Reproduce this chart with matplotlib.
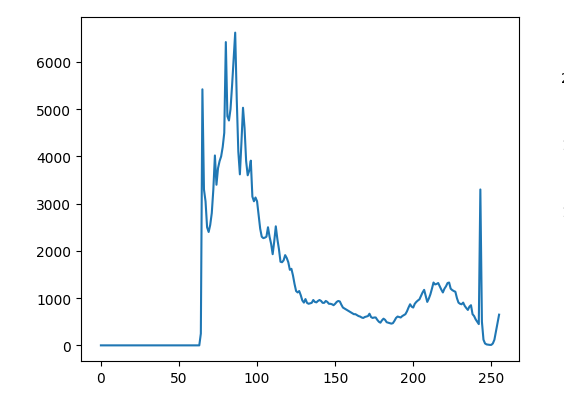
import numpy as np
import matplotlib
matplotlib.use("Agg")
import matplotlib.pyplot as plt

# pixel intensity histogram, bins 0..255 (bins 0-63 are empty)
bins = np.arange(256)
counts_low = [0] * 64
counts_high = [
    250, 5420, 3300, 3050, 2500, 2400, 2550, 2800, 3300, 4020,   # 64-73
    3400, 3750, 3900, 4000, 4200, 4500, 6420, 4850, 4760, 5000,  # 74-83
    5500, 6050, 6620, 5200, 4100, 3620, 4300, 5030, 4600, 3900,  # 84-93
    3600, 3700, 3910, 3150, 3050, 3130, 3050, 2750, 2470, 2300,  # 94-103
    2270, 2280, 2300, 2500, 2300, 2150, 1930, 2200, 2520, 2250,  # 104-113
    2040, 1770, 1760, 1800, 1910, 1850, 1760, 1600, 1620, 1480,  # 114-123
    1300, 1150, 1120, 1150, 1060, 950, 905, 980, 900, 880,       # 124-133
    890, 900, 960, 920, 910, 940, 960, 940, 900, 900,            # 134-143
    940, 920, 880, 880, 870, 850, 880, 920, 940, 930,            # 144-153
    860, 800, 780, 760, 740, 720, 700, 680, 660, 660,            # 154-163
    640, 620, 610, 590, 580, 600, 610, 620, 670, 600,            # 164-173
    580, 590, 590, 540, 500, 480, 530, 565, 540, 490,            # 174-183
    480, 470, 460, 470, 520, 580, 610, 600, 590, 620,            # 184-193
    640, 660, 720, 800, 870, 820, 800, 880, 920, 950,            # 194-203
    975, 1050, 1120, 1175, 1050, 920, 990, 1080, 1200, 1330,     # 204-213
    1290, 1300, 1320, 1250, 1180, 1120, 1200, 1250, 1320, 1330,  # 214-223
    1200, 1170, 1150, 1135, 1000, 905, 880, 870, 905, 835,       # 224-233
    790, 750, 820, 850, 660, 620, 550, 500, 450, 3300,           # 234-243
    500, 120, 40, 20, 15, 10, 10, 40, 120, 300,                  # 244-253
    480, 650,                                                    # 254-255
]
counts = counts_low + counts_high

fig = plt.figure(figsize=(5.64, 4.06), dpi=100)
ax = fig.add_axes([81 / 564, 44 / 406, 438 / 564, 344 / 406])
ax.plot(bins, counts, color="#1f77b4", lw=1.5)

# edge of a neighbouring panel's tick labels, cut off by the crop
for y, s, c in [(79, "2", "black"), (146, "1", "#999999"), (213, "1", "#999999")]:
    fig.text(561.5 / 564, 1 - y / 406, s, fontsize=10, color=c,
             ha="left", va="center")

fig.savefig("out.png", dpi=100)
